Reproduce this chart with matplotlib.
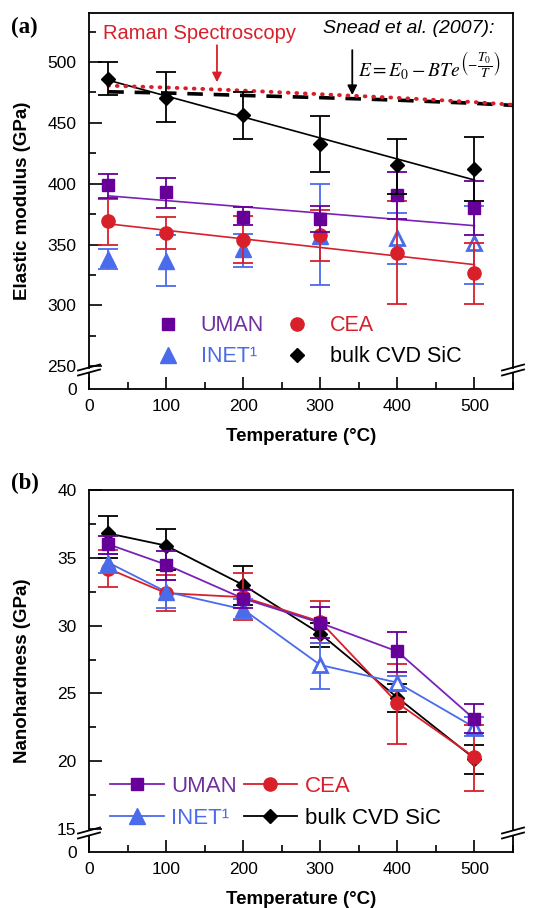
import numpy as np
import matplotlib.pyplot as plt
from matplotlib.lines import Line2D
from matplotlib.ticker import MultipleLocator, FixedLocator

plt.rcParams['font.family'] = ['Liberation Sans', 'DejaVu Sans']
plt.rcParams['mathtext.fontset'] = 'stix'

# ---- colours
c_uman = '#660099'
c_cea = '#D8202B'
c_inet = '#4A6BEA'
c_bulk = 'black'

# ---- data
T = [25, 100, 200, 300, 400, 500]

# (a) elastic modulus (GPa): value, upper and lower error bar end
E_uman = [399, 393, 373, 371, 391, 380]
E_uman_hi = [408, 405, 381, 382, 410, 402.5]
E_uman_lo = [388, 380, 366, 360, 371, 358]
E_cea = [369, 359.6, 354, 358, 343, 326.5]
E_cea_hi = [387.7, 372.4, 373.2, 378.7, 386, 351.4]
E_cea_lo = [350, 346, 335, 336.3, 300.8, 301.4]
E_inet = [338, 336.5, 346, 357.4, 355.3, 351.4]
E_inet_hi = [346, 357.6, 359, 399.7, 376, 382]
E_inet_lo = [330.3, 315.7, 331.7, 316.6, 334.2, 317.2]
E_inet_open = [False, False, False, False, True, True]
E_bulk = [486, 470.5, 456.5, 432.8, 415.6, 412.2]
E_bulk_hi = [500, 491.5, 475.6, 456, 436.6, 438]
E_bulk_lo = [472.5, 451, 437, 410, 391.6, 385.5]

# linear fits
fit_T = [25, 500]
fit_uman = [390, 365.5]
fit_cea = [367, 333.5]
fit_bulk = [485, 403]

# Raman spectroscopy and Snead et al. (2007) curves
model_T = [25, 100, 200, 300, 400, 500, 550]
raman_E = [480.5, 479, 476.5, 473.5, 470.5, 467, 464.8]
snead_E = [475.5, 474.5, 472.5, 470.7, 468.6, 466, 464.3]

# (b) nanohardness (GPa)
H_uman = [36.0, 34.5, 32.0, 30.2, 28.1, 23.1]
H_uman_hi = [36.6, 35.5, 32.6, 31.4, 29.5, 24.2]
H_uman_lo = [35.3, 33.4, 31.3, 29.1, 26.6, 22.1]
H_cea = [34.2, 32.4, 32.1, 30.3, 24.3, 20.3]
H_cea_hi = [35.6, 33.75, 33.9, 31.8, 27.2, 22.7]
H_cea_lo = [32.85, 31.05, 30.4, 28.7, 21.25, 17.8]
H_inet = [34.65, 32.5, 31.2, 27.1, 25.8, 22.5]
H_inet_hi = [35.3, 33.4, 32.0, 28.7, 26.3, 23.3]
H_inet_lo = [33.9, 31.3, 30.5, 25.3, 25.2, 21.9]
H_inet_open = [False, False, False, True, True, True]
H_bulk = [36.8, 35.9, 33.0, 29.4, 24.7, 20.2]
H_bulk_hi = [38.1, 37.1, 34.4, 30.2, 25.7, 21.2]
H_bulk_lo = [35.0, 34.1, 31.5, 28.4, 23.6, 19.1]

labels = ['UMAN', 'CEA', 'INET\u00b9', 'bulk CVD SiC']
W, H = 538, 908
X0, X1 = 89, 513


def broken_pair(fig, top_px, brk_px, bot_px, gap=5):
    # main axes above the break, thin axes below it holding the "0" and the x axis
    ax = fig.add_axes([X0 / W, 1 - (brk_px - gap / 2) / H, (X1 - X0) / W,
                       (brk_px - gap / 2 - top_px) / H])
    axb = fig.add_axes([X0 / W, 1 - bot_px / H, (X1 - X0) / W,
                        (bot_px - brk_px - gap / 2) / H], sharex=ax)
    for a in (ax, axb):
        for s in a.spines.values():
            s.set_linewidth(1.3)
        a.tick_params(which='both', direction='in', top=False, right=False,
                      labelsize=12.5, width=1.2)
        a.tick_params(which='major', length=9)
        a.tick_params(which='minor', length=5)
        a.tick_params(axis='y', pad=9)
    ax.spines['bottom'].set_visible(False)
    ax.tick_params(axis='x', which='both', bottom=False, labelbottom=False)
    axb.spines['top'].set_visible(False)
    axb.set_ylim(0, 1)
    axb.yaxis.set_major_locator(FixedLocator([0]))
    axb.tick_params(axis='y', length=0)
    axb.tick_params(axis='x', pad=7)
    axb.set_xlim(0, 550)
    axb.xaxis.set_major_locator(MultipleLocator(100))
    axb.xaxis.set_minor_locator(MultipleLocator(50))
    # break marks
    for xs in (X0, X1):
        for yb in (brk_px - gap / 2, brk_px + gap / 2):
            fig.add_artist(Line2D([(xs - 11) / W, (xs + 11) / W],
                                  [1 - (yb + 3) / H, 1 - (yb - 3) / H],
                                  color='black', lw=1.3,
                                  transform=fig.transFigure))
    axb.set_xlabel('Temperature (\u00b0C)', fontsize=13.5, fontweight='bold',
                   labelpad=10)
    return ax, axb


def draw_series(ax, x, y, hi, lo, color, marker, ms, z, open_flags=None):
    x = np.asarray(x)
    y = np.asarray(y)
    yerr = [y - np.asarray(lo), np.asarray(hi) - y]
    ax.errorbar(x, y, yerr=yerr, fmt='none', ecolor=color, elinewidth=1.3,
                capsize=7, capthick=1.3, zorder=z)
    if open_flags is None:
        open_flags = [False] * len(x)
    op = np.asarray(open_flags)
    ax.plot(x[~op], y[~op], ls='none', marker=marker, ms=ms, color=color,
            mec=color, zorder=z + 0.5)
    if op.any():
        ax.plot(x[op], y[op], ls='none', marker=marker, ms=ms - 1.5, mfc='white',
                mec=color, mew=2, zorder=z + 0.5)


fig = plt.figure(figsize=(W / 100, H / 100), dpi=100)

# ================= (a) =================
ax1, ax1b = broken_pair(fig, 13, 370, 389)
ax1.set_ylim(249, 540.2)
ax1.yaxis.set_major_locator(MultipleLocator(50))
ax1.yaxis.set_minor_locator(MultipleLocator(25))

ax1.plot(model_T, snead_E, color='black', lw=2.6, ls=(0, (4.3, 3.0)), zorder=2)
ax1.plot(model_T, raman_E, color=c_cea, lw=2.8, ls=(0, (0.2, 2.0)),
         dash_capstyle='round', zorder=2.2)
ax1.plot(fit_T, fit_uman, color='#7A22B8', lw=1.2, zorder=2)
ax1.plot(fit_T, fit_cea, color=c_cea, lw=1.2, zorder=2)
ax1.plot(fit_T, fit_bulk, color='black', lw=1.2, zorder=2)

draw_series(ax1, T, E_inet, E_inet_hi, E_inet_lo, c_inet, '^', 11, 3, E_inet_open)
draw_series(ax1, T, E_cea, E_cea_hi, E_cea_lo, c_cea, 'o', 9.5, 4)
draw_series(ax1, T, E_uman, E_uman_hi, E_uman_lo, c_uman, 's', 8.5, 5)
draw_series(ax1, T, E_bulk, E_bulk_hi, E_bulk_lo, c_bulk, 'D', 7.5, 6)

ax1.text(18, 519, 'Raman Spectroscopy', color=c_cea, fontsize=14.5,
         va='baseline')
ax1.annotate('', xy=(166, 481), xytext=(166, 516),
             arrowprops=dict(arrowstyle='-|>', color=c_cea, lw=1.3,
                             mutation_scale=14))
ax1.text(303, 523.8, 'Snead et al. (2007):', fontsize=14, style='italic',
         va='baseline')
ax1.annotate('', xy=(341.5, 470.5), xytext=(341.5, 512),
             arrowprops=dict(arrowstyle='-|>', color='black', lw=1.3,
                             mutation_scale=14))
ax1.text(349, 487, r'$E = E_0 - BTe^{\left(-\dfrac{T_0}{T}\right)}$',
         fontsize=14, va='baseline')

h_top = [
    Line2D([], [], ls='none', marker='s', ms=8.5, color=c_uman),
    Line2D([], [], ls='none', marker='^', ms=11, color=c_inet),
    Line2D([], [], ls='none', marker='o', ms=9.5, color=c_cea),
    Line2D([], [], ls='none', marker='D', ms=7.5, color=c_bulk),
]
leg1 = ax1.legend(h_top, [labels[0], labels[2], labels[1], labels[3]], ncol=2,
                  loc='center left', bbox_to_anchor=(0.149, 0.074),
                  frameon=False, fontsize=15.5, handlelength=1.5,
                  handletextpad=0.75, columnspacing=0.8, labelspacing=0.45,
                  borderpad=0, borderaxespad=0)
for t, c in zip(leg1.get_texts(), ['#7030A0', c_inet, c_cea, c_bulk]):
    t.set_color(c)

# ================= (b) =================
ax2, ax2b = broken_pair(fig, 490, 833, 852)
ax2.set_ylim(14.9, 40)
ax2.yaxis.set_major_locator(MultipleLocator(5))
ax2.yaxis.set_minor_locator(MultipleLocator(2.5))

ax2.plot(T, H_bulk, color=c_bulk, lw=1.3, zorder=2)
ax2.plot(T, H_cea, color=c_cea, lw=1.3, zorder=2)
ax2.plot(T, H_inet, color=c_inet, lw=1.3, zorder=2)
ax2.plot(T, H_uman, color='#7A22B8', lw=1.3, zorder=2)

draw_series(ax2, T, H_bulk, H_bulk_hi, H_bulk_lo, c_bulk, 'D', 7.5, 3)
draw_series(ax2, T, H_cea, H_cea_hi, H_cea_lo, c_cea, 'o', 9.5, 4)
draw_series(ax2, T, H_inet, H_inet_hi, H_inet_lo, c_inet, '^', 11, 5, H_inet_open)
draw_series(ax2, T, H_uman, H_uman_hi, H_uman_lo, c_uman, 's', 8.5, 6)

h_bot = [
    Line2D([], [], marker='s', ms=8.5, color='#7A22B8', mfc=c_uman, mec=c_uman, lw=1.3),
    Line2D([], [], marker='^', ms=11, color=c_inet, lw=1.3),
    Line2D([], [], marker='o', ms=9.5, color=c_cea, lw=1.3),
    Line2D([], [], marker='D', ms=7.5, color=c_bulk, lw=1.3),
]
leg2 = ax2.legend(h_bot, [labels[0], labels[2], labels[1], labels[3]], ncol=2,
                  loc='center left', bbox_to_anchor=(0.05, 0.082),
                  frameon=False, fontsize=16, handlelength=2.4,
                  handletextpad=0.35, columnspacing=0.3, labelspacing=0.5,
                  borderpad=0, borderaxespad=0)
for t, c in zip(leg2.get_texts(), ['#7030A0', c_inet, c_cea, c_bulk]):
    t.set_color(c)

# ---- labels
fig.text(23 / W, 1 - 201 / H, 'Elastic modulus (GPa)', rotation=90,
         fontsize=13.5, fontweight='bold', ha='center', va='center')
fig.text(23 / W, 1 - 671 / H, 'Nanohardness (GPa)', rotation=90,
         fontsize=13.5, fontweight='bold', ha='center', va='center')
fig.text(11 / W, 1 - 27 / H, '(a)', family='Liberation Serif',
         fontweight='bold', fontsize=16.5, va='center')
fig.text(11 / W, 1 - 483 / H, '(b)', family='Liberation Serif',
         fontweight='bold', fontsize=16.5, va='center')

fig.savefig('out.png', dpi=100)
